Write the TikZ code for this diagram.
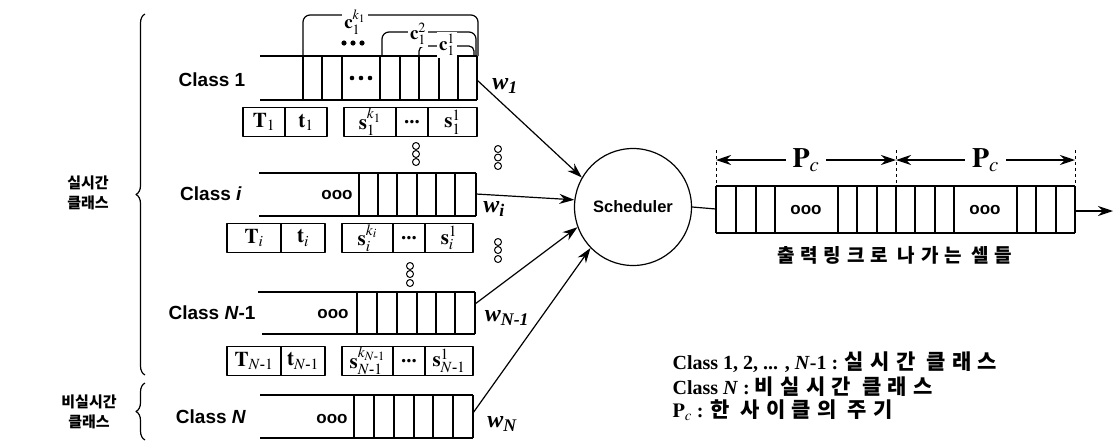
\documentclass[tikz,border=0pt]{standalone}
\usepackage{amsmath}
\usepackage{mathptmx}
\usepackage{fontspec}
\setmainfont{Liberation Serif}
\setsansfont{Liberation Sans}
\newfontfamily\kr{Noto Sans CJK KR}
\newfontfamily\krw[LetterSpace=30]{Noto Sans CJK KR}
\usetikzlibrary{arrows.meta,decorations.pathreplacing}

\begin{document}
\begin{tikzpicture}[x=1pt,y=-1pt,>={Stealth[length=15pt,width=10pt]},line width=1.2pt,line join=round,
  font=\bfseries\fontsize{20}{22}\selectfont]
	\tikzset{every node/.style={inner sep=0pt},
	  lbl/.style={font=\sffamily\bfseries\fontsize{19}{19}\selectfont},
	  gap/.style={font=\sffamily\bfseries\fontsize{17}{17}\selectfont},
	  tbox/.style={draw,anchor=west,outer sep=0pt,minimum height=29pt,font=\bfseries\fontsize{21}{21}\selectfont},
	  clbl/.style={fill=white,inner sep=2pt,font=\bfseries\fontsize{19}{19}\selectfont},
	  wlbl/.style={font=\bfseries\itshape\fontsize{24}{24}\selectfont},
	  krlbl/.style={font=\kr\bfseries\fontsize{15}{20}\selectfont,align=center},
	  brc/.style={decorate,decoration={brace,amplitude=9pt}}}
	\useasboundingbox (0,0) rectangle (1120,445);
	% braces on the left
	\draw[brc] (145,375)--(145,14);
	\draw[brc] (145,440)--(145,383);
	\node[krlbl] (rt) at (88,193) {실시간\\클래스};
	\node[krlbl] (nrt) at (89,412) {비실시간\\클래스};
	% class 1
	\draw (260,56)--(477,56) (260,100)--(477,100);
	\foreach \x in {303,322,342,380,400,419,439,458,477} \draw (\x,56)--(\x,100);
	\node[lbl] (cls1) at (212,80) {Class 1};
	\foreach \x in {352,361,370} \fill (\x,78) circle (2.3);
	\draw[rounded corners=7pt] (303,56)--(303,15)--(478,15)--(478,56);
	\draw[rounded corners=7pt] (382,56)--(382,32)--(476,32)--(476,56);
	\draw[rounded corners=5pt] (419,56)--(419,46)--(474,46)--(474,56);
	\node[clbl] (ck) at (355,22) {$\mathbf{c}_1^{k_1}$};
	\node[clbl] (c2) at (418,34) {$\mathbf{c}_1^2$};
	\node[clbl] (c1) at (447,45) {$\mathbf{c}_1^1$};
	\foreach \x in {344,353,362} \fill (\x,43) circle (2.6);
	\node[tbox,minimum width=42pt] (T1) at (243,122) {$\mathbf{T}_1$};
	\node[tbox,minimum width=42pt] (t1) at (285,122) {$\mathbf{t}_1$};
	\node[tbox,minimum width=52pt] (sk1) at (344,122) {$\mathbf{s}_1^{k_1}$};
	\node[tbox,minimum width=32pt] (sd1) at (396,122) {...};
	\node[tbox,minimum width=49pt] (s11) at (428,122) {$\mathbf{s}_1^1$};
	% class i
	\draw (259,173)--(476,173) (259,216)--(476,216);
	\foreach \x in {359,378,397,417,436,455,476} \draw (\x,173)--(\x,216);
	\node[lbl] (clsi) at (211,194) {Class \textit{i}};
	\node[gap] (gapi) at (337,195) {ooo};
	\node[tbox,minimum width=54pt] (Ti) at (227,238) {$\mathbf{T}_i$};
	\node[tbox,minimum width=44pt] (ti) at (281,238) {$\mathbf{t}_i$};
	\node[tbox,minimum width=51pt] (ski) at (342,238) {$\mathbf{s}_i^{k_i}$};
	\node[tbox,minimum width=32pt] (sdi) at (393,238) {...};
	\node[tbox,minimum width=48pt] (s1i) at (425,238) {$\mathbf{s}_i^1$};
	% class N-1
	\draw (258,292)--(475,292) (262,334)--(475,334);
	\foreach \x in {357,377,397,417,436,455,475} \draw (\x,292)--(\x,334);
	\node[lbl] (clsN1) at (212,313) {Class \textit{N}-1};
	\node[gap] (gapN1) at (333,314) {ooo};
	\node[tbox,minimum width=54pt] (TN1) at (227,361) {$\mathbf{T}_{N\text{-}1}$};
	\node[tbox,minimum width=44pt] (tN1) at (281,361) {$\mathbf{t}_{N\text{-}1}$};
	\node[tbox,minimum width=51pt] (skN1) at (342,361) {$\mathbf{s}_{N\text{-}1}^{k_{N\text{-}1}}$};
	\node[tbox,minimum width=32pt] (sdN1) at (393,361) {...};
	\node[tbox,minimum width=48pt] (s1N1) at (425,361) {$\mathbf{s}_{N\text{-}1}^1$};
	% class N
	\draw (260,395)--(473,395) (260,438)--(473,438);
	\foreach \x in {354,374,394,414,433,453,473} \draw (\x,395)--(\x,438);
	\node[lbl] (clsN) at (211,417) {Class \textit{N}};
	\node[gap] (gapN) at (332,419) {ooo};
	% vertical dots
	\foreach \y in {146,154,162} \draw[line width=1pt] (416,\y) circle (3.5);
	\foreach \y in {149,157.5,166} \draw[line width=1pt] (498,\y) circle (3.5);
	\foreach \y in {242,250,259} \draw[line width=1pt] (498,\y) circle (3.5);
	\foreach \y in {266,274,283} \draw[line width=1pt] (410,\y) circle (3.5);
	% scheduler
	\node[draw,circle,minimum size=117pt,font=\sffamily\bfseries\fontsize{16.5}{16.5}\selectfont] (sched) at (633,207) {Scheduler};
	\coordinate (q1) at (477,80);
	\coordinate (qi) at (476,194);
	\coordinate (qN1) at (475,304);
	\coordinate (qN) at (473,413);
	\draw[->] (q1)--(sched.150);
	\draw[->] (qi)--(sched.173);
	\draw[->] (qN1)--(sched.200);
	\draw[->] (qN)--(sched.224);
	\node[wlbl] (w1) at (505,86) {w\textsubscript{1}};
	\node[wlbl] (wi) at (494,209) {w\textsubscript{i}};
	\node[wlbl] (wN1) at (507,318) {w\textsubscript{N-1}};
	\node[wlbl] (wN) at (502,424) {w\textsubscript{N}};
	% output link
	\coordinate (oq) at (716,209);
	\draw (sched.east)--(oq);
	\draw (716,186)--(1075,186) (716,233)--(1075,233);
	\foreach \x in {716,736,756,775,838,857,877,896,915,935,954,1017,1036,1056,1075} \draw (\x,186)--(\x,233);
	\node[gap] (gapo1) at (806,210) {ooo};
	\node[gap] (gapo2) at (985,210) {ooo};
	\coordinate (oend) at (1075,211);
	\coordinate (otip) at (1113,211);
	\draw[->] (oend)--(otip);
	\foreach \x in {716,896,1075} \draw[dashed,line width=0.7pt] (\x,150)--(\x,186);
	\coordinate (pc0) at (716,160);
	\coordinate (pc1) at (896,160);
	\coordinate (pc2) at (1075,160);
	\draw[<->] (pc0)--(pc1) node[midway,fill=white,inner sep=7pt,font=\bfseries\fontsize{28}{28}\selectfont] (pcl1) {$\mathbf{P}_c$};
	\draw[<->] (pc1)--(pc2) node[midway,fill=white,inner sep=7pt,font=\bfseries\fontsize{28}{28}\selectfont] (pcl2) {$\mathbf{P}_c$};
	\node[font=\krw\bfseries\fontsize{19}{19}\selectfont] (outtxt) at (895,255) {출력링크로 나가는 셀들};
	% legend
	\node[anchor=west,font=\bfseries\fontsize{20}{20}\selectfont] (leg1) at (672,362) {Class 1, 2, ... , \textit{N}-1 : {\krw\fontsize{21}{21}\selectfont 실시간 클래스}};
	\node[anchor=west,font=\bfseries\fontsize{20}{20}\selectfont] (leg2) at (672,387) {Class \textit{N} : {\krw\fontsize{21}{21}\selectfont 비실시간 클래스}};
	\node[anchor=west,font=\bfseries\fontsize{20}{20}\selectfont] (leg3) at (672,410) {$\mathbf{P}_c$ : {\krw\fontsize{21}{21}\selectfont 한 사이클의 주기}};
\end{tikzpicture}
\end{document}
